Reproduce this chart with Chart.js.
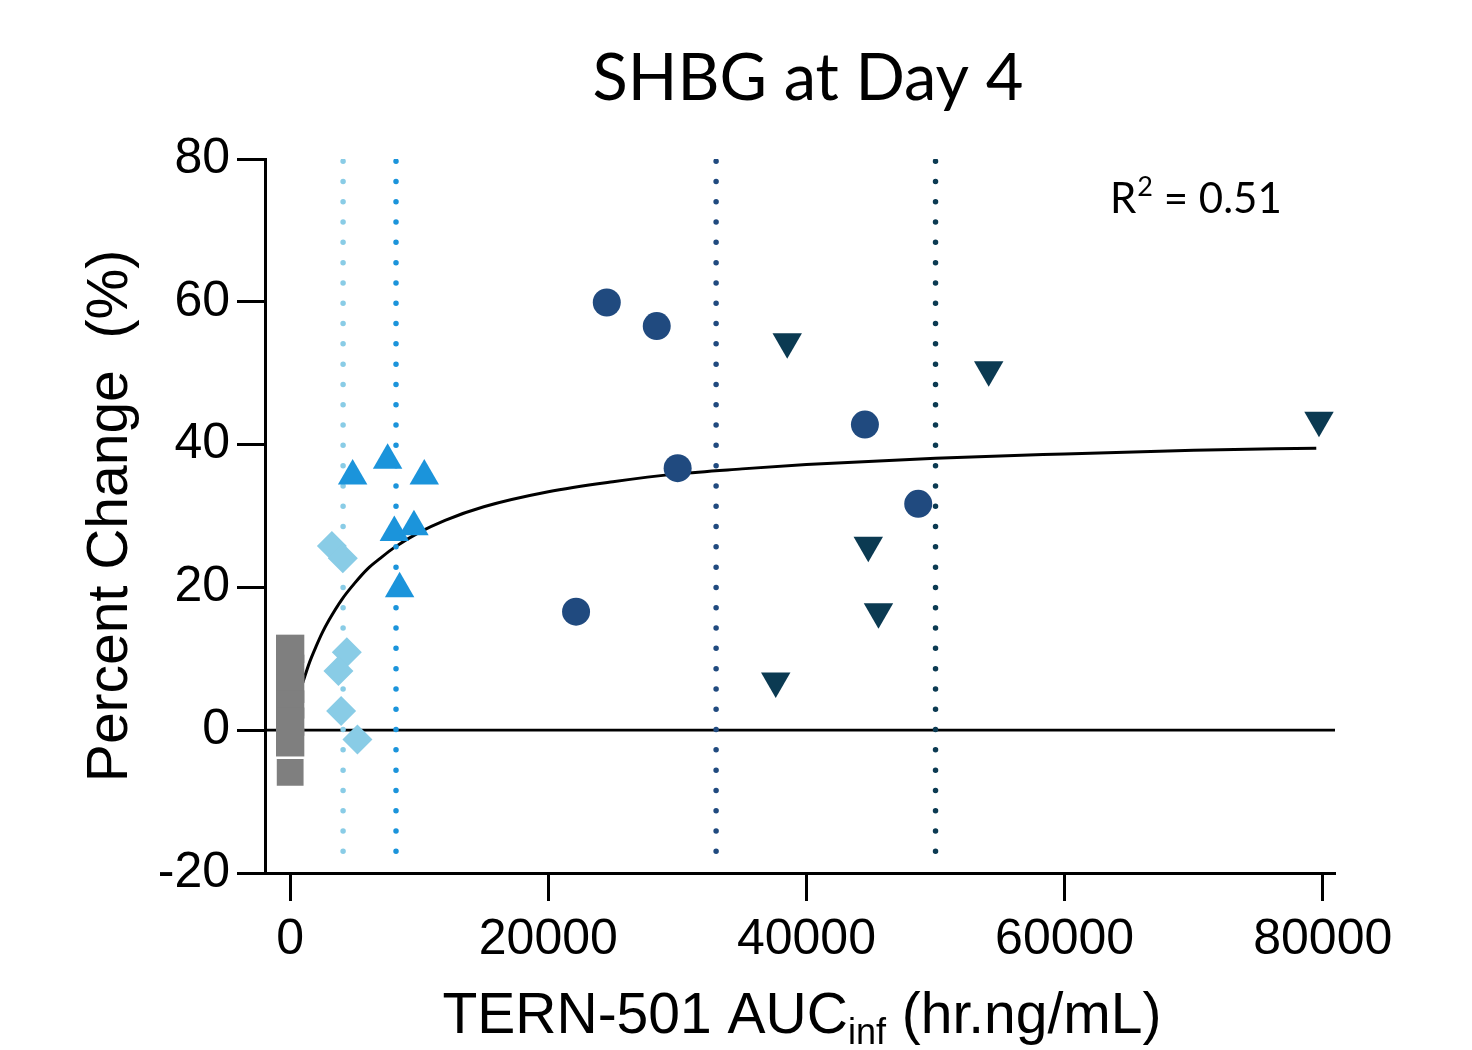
<!DOCTYPE html>
<html>
<head>
<meta charset="utf-8">
<title>SHBG at Day 4</title>
<script src="https://cdn.jsdelivr.net/npm/chart.js@4/dist/chart.umd.min.js"></script>
<style>
  html, body { margin: 0; padding: 0; background: #fff; }
  canvas { display: block; }
</style>
</head>
<body>
<canvas id="chart" width="1472" height="1050"></canvas>
<script>
// placebo, stacked at AUC 0
const placeboX = [0, 0, 0, 0, 0, 0, 0];
const placeboY = [11.4, 8.6, 5.8, 3.6, 1.2, -1.7, -5.9];

// lowest dose (light blue diamonds)
const dose1X = [3230, 4080, 4390, 3740, 3950, 5210];
const dose1Y = [25.8, 24.1, 10.9, 8.3, 2.7, -1.3];

// second dose (blue triangles)
const dose2X = [4840, 7550, 10390, 8070, 9590, 8480];
const dose2Y = [35.6, 37.8, 35.6, 27.7, 28.5, 19.8];

// third dose (dark blue circles)
const dose3X = [24530, 28400, 30020, 44530, 48660, 22150];
const dose3Y = [59.9, 56.6, 36.7, 42.8, 31.7, 16.6];

// highest dose (navy inverted triangles)
const dose4X = [38510, 54120, 79710, 44790, 45580, 37620];
const dose4Y = [54.4, 50.5, 43.4, 25.9, 16.6, 6.9];

// fitted curve
const fitX = [500, 1000, 1500, 2000, 2500, 3000, 4000, 5000, 6000, 7000, 8000, 10000, 12000, 15000, 20000, 25000, 30000, 35000, 40000, 50000, 60000, 70000, 79500];
const fitY = [4.0, 6.8, 9.5, 11.7, 13.7, 15.4, 18.3, 20.6, 22.6, 24.1, 25.5, 27.7, 29.4, 31.3, 33.4, 34.8, 35.9, 36.6, 37.2, 38.1, 38.7, 39.2, 39.5];

// dotted reference lines (mean AUC per dose)
const refX = [4100, 8200, 33000, 50000];
const refTop = 79.7;
const refBottom = -17.3;

const xTicks = [0, 20000, 40000, 60000, 80000];
const yTicks = [-20, 0, 20, 40, 60, 80];

const colGray = "#7f7f7f";
const colLight = "#89cce6";
const colMid = "#1b94db";
const colDark = "#204a7f";
const colNavy = "#0b3a52";
const refColors = [colLight, colMid, colDark, colNavy];

const titleText = "SHBG at Day 4";
const yTitle = "Percent Change  (%)";

function pts(xs, ys) {
  return xs.map((x, i) => ({ x: x, y: ys[i] }));
}

function markerSet(xs, ys, color, style, radius, extra = {}) {
  return {
    data: pts(xs, ys),
    showLine: false,
    pointStyle: style,
    pointRadius: radius,
    pointHoverRadius: radius,
    pointBackgroundColor: color,
    pointBorderColor: color,
    pointBorderWidth: 0,
    order: 1,
    ...extra
  };
}

const datasets = [
  markerSet(placeboX, placeboY, colGray, "rect", 20, {
    pointBorderColor: "#fff",
    pointBorderWidth: placeboY.map((v, i) => i === placeboY.length - 1 ? 1.5 : 0)
  }),
  markerSet(dose1X, dose1Y, colLight, "rectRot", 15),
  markerSet(dose2X, dose2Y, colMid, "triangle", 17),
  markerSet(dose3X, dose3Y, colDark, "circle", 14),
  markerSet(dose4X, dose4Y, colNavy, "triangle", 17, { pointRotation: 180 }),
  {
    data: pts(fitX, fitY),
    showLine: true,
    pointRadius: 0,
    borderColor: "#000",
    borderWidth: 3,
    cubicInterpolationMode: "monotone",
    order: 3
  },
  {
    data: [{ x: -1950, y: 0 }, { x: 80950, y: 0 }],
    showLine: true,
    pointRadius: 0,
    borderColor: "#000",
    borderWidth: 2.8,
    order: 3
  }
];

refX.forEach((x, i) => {
  datasets.push({
    data: [{ x: x, y: refTop }, { x: x, y: refBottom }],
    showLine: true,
    pointRadius: 0,
    borderColor: refColors[i],
    borderWidth: 5.5,
    borderCapStyle: "round",
    borderDash: [0, 20.3],
    order: 2
  });
});

const textPlugin = {
  id: "texts",
  afterDraw(chart) {
    const ctx = chart.ctx;
    ctx.save();
    ctx.fillStyle = "#000";
    ctx.textBaseline = "alphabetic";

    // title
    ctx.font = "65px Lato";
    ctx.textAlign = "center";
    ctx.fillText(titleText, 808, 100);

    // R squared
    ctx.font = "42px Lato";
    ctx.textAlign = "left";
    let x = 1110;
    ctx.fillText("R", x, 213);
    x += ctx.measureText("R").width + 1;
    ctx.font = "27px Lato";
    ctx.fillText("2", x, 196);
    x += ctx.measureText("2").width;
    ctx.font = "42px Lato";
    ctx.fillText(" = 0.51", x, 213);

    // x axis title with subscript
    const a = "TERN-501 AUC", s = "inf", b = " (hr.ng/mL)";
    const big = "57px 'Liberation Sans', Arial", small = "36px 'Liberation Sans', Arial";
    ctx.font = big;
    const wa = ctx.measureText(a).width, wb = ctx.measureText(b).width;
    ctx.font = small;
    const ws = ctx.measureText(s).width;
    let sx = 802 - (wa + ws + wb) / 2;
    ctx.font = big;
    ctx.fillText(a, sx, 1033);
    ctx.font = small;
    ctx.fillText(s, sx + wa, 1044);
    ctx.font = big;
    ctx.fillText(b, sx + wa + ws, 1033);

    // y axis title
    ctx.translate(127, 516);
    ctx.rotate(-Math.PI / 2);
    ctx.textAlign = "center";
    ctx.font = big;
    ctx.fillText(yTitle, 0, 0);
    ctx.restore();
  }
};

const tickFont = { family: "'Liberation Sans', Arial", size: 50 };

new Chart(document.getElementById("chart"), {
  type: "scatter",
  data: { datasets },
  plugins: [textPlugin],
  options: {
    responsive: false,
    devicePixelRatio: 1,
    animation: false,
    layout: { padding: { left: 0, top: 159, right: 137, bottom: 0 } },
    plugins: { legend: { display: false }, tooltip: { enabled: false } },
    scales: {
      x: {
        type: "linear",
        min: -1950,
        max: 80950,
        afterBuildTicks: s => { s.ticks = xTicks.map(v => ({ value: v })); },
        afterFit: s => { s.height = 177; },
        border: { color: "#000", width: 3 },
        grid: { drawOnChartArea: false, tickLength: 28, tickWidth: 3, tickColor: "#000" },
        ticks: { color: "#000", font: tickFont, padding: 9, maxRotation: 0, callback: v => String(v) }
      },
      y: {
        type: "linear",
        min: -20,
        max: 80,
        afterBuildTicks: s => { s.ticks = yTicks.map(v => ({ value: v })); },
        afterFit: s => { s.width = 265; },
        border: { color: "#000", width: 3 },
        grid: { drawOnChartArea: false, tickLength: 28, tickWidth: 3, tickColor: "#000" },
        ticks: { color: "#000", font: tickFont, padding: 7, callback: v => String(v) }
      }
    }
  }
});
</script>
</body>
</html>
